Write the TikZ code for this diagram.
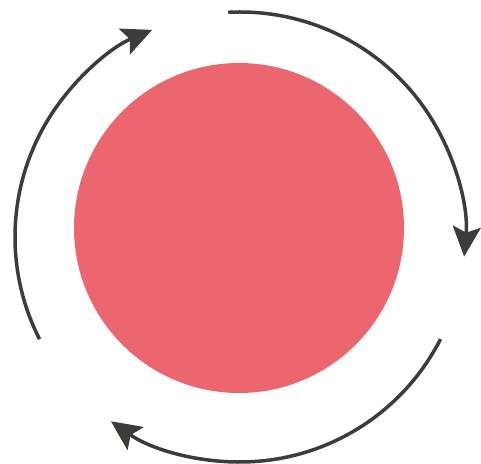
\documentclass[tikz,border=0pt]{standalone}
\usepackage{tikz}
\usetikzlibrary{arrows.meta}
\definecolor{diskRed}{HTML}{EC6670}
\definecolor{arrowGray}{HTML}{3D3C38}

\begin{document}
\begin{tikzpicture}[x=1pt, y=1pt,
    turn/.style={line width=3.5pt, arrowGray, -{Stealth[length=30pt, width=28pt, inset=6pt]}}]
    % Frame
    \useasboundingbox (0,0) rectangle (481,463);

    % Disk
    \node[circle, fill=diskRed, minimum size=330pt, inner sep=0pt] (disk) at (239,235) {};

    % Rotation arrows
    \coordinate (ctr) at (240,226);
    \draw[turn] ([shift={(207:225)}]ctr) arc[start angle=207, end angle=113, radius=225];
    \draw[turn] ([shift={(93:225)}]ctr) arc[start angle=93, end angle=-5, radius=225];
    \draw[turn] ([shift={(-27:225)}]ctr) arc[start angle=-27, end angle=-125, radius=225];
\end{tikzpicture}
\end{document}
